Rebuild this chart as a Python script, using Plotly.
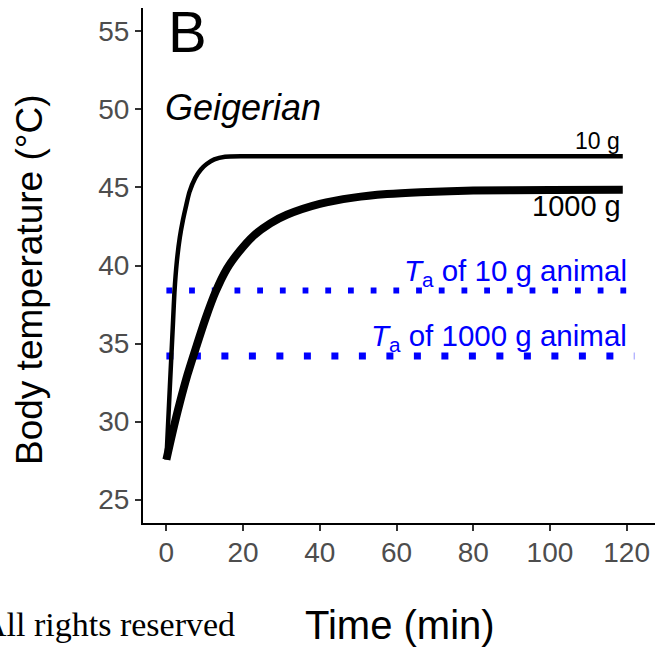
import plotly.graph_objects as go

# ---- data ----
time_10g = [0, 0.9, 1.75, 2.1, 2.7, 3.5, 4.3, 5.2, 6.0, 7.5, 9.0, 10.5, 12.5, 15.3, 20, 119]
temp_10g = [27.56, 32.2, 36.5, 38.3, 40.2, 41.8, 42.9, 43.9, 44.7, 45.6, 46.15, 46.5, 46.8, 46.97, 47.0, 47.0]

time_1000g = [0, 1.5, 3.5, 5.5, 7.8, 10.2, 12.8, 15.8, 19, 22.7, 27.1, 31.4, 40, 48.8, 57.5, 66.2, 80, 100, 119]
temp_1000g = [27.56, 29.2, 31.2, 33.0, 34.8, 36.6, 38.3, 39.8, 40.9, 41.9, 42.7, 43.25, 43.95, 44.35, 44.58, 44.7, 44.8, 44.84, 44.85]

ta_10g = 38.4
ta_1000g = 34.2
ta_time_10g = [0, 120]
ta_time_1000g = [0, 122]

x_ticks = [0, 20, 40, 60, 80, 100, 120]
y_ticks = [25, 30, 35, 40, 45, 50, 55]

W, H = 655, 647
ML, MR, MT, MB = 143, 0, 8, 124
PW, PH = W - ML - MR, H - MT - MB

def px(x):
    return (x - ML) / PW

def py(y):
    return (H - MB - y) / PH

SANS = "Liberation Sans, Arial, sans-serif"

fig = go.Figure()

fig.add_trace(go.Scatter(x=ta_time_10g, y=[ta_10g] * len(ta_time_10g), mode="lines",
                         line=dict(color="#0000FF", width=6, dash="5.8px,16.9px"),
                         showlegend=False, hoverinfo="skip"))
fig.add_trace(go.Scatter(x=ta_time_1000g, y=[ta_1000g] * len(ta_time_1000g), mode="lines",
                         line=dict(color="#0000FF", width=6.8, dash="7px,20.5px"),
                         showlegend=False, hoverinfo="skip"))
fig.add_trace(go.Scatter(x=time_10g, y=temp_10g, mode="lines",
                         line=dict(color="black", width=4.5, shape="spline", smoothing=0.5),
                         showlegend=False))
fig.add_trace(go.Scatter(x=time_1000g, y=temp_1000g, mode="lines",
                         line=dict(color="black", width=8, shape="spline", smoothing=0.8),
                         showlegend=False))

ann = []
# panel letter and model name
ann.append(dict(x=px(166), y=py(31), xref="paper", yref="paper", text="B",
                showarrow=False, xanchor="left", yanchor="middle",
                font=dict(family=SANS, size=58, color="black")))
ann.append(dict(x=px(163), y=py(107), xref="paper", yref="paper", text="<i>Geigerian</i>",
                showarrow=False, xanchor="left", yanchor="middle",
                font=dict(family=SANS, size=36, color="black")))
# curve labels
ann.append(dict(x=px(622), y=py(141), xref="paper", yref="paper", text="10 g",
                showarrow=False, xanchor="right", yanchor="middle",
                font=dict(family=SANS, size=23, color="black")))
ann.append(dict(x=px(623), y=py(206), xref="paper", yref="paper", text="1000 g",
                showarrow=False, xanchor="right", yanchor="middle",
                font=dict(family=SANS, size=29, color="black")))
ann.append(dict(x=px(629), y=py(272), xref="paper", yref="paper",
                text="<i>T</i><sub>a</sub> of 10 g animal",
                showarrow=False, xanchor="right", yanchor="middle",
                font=dict(family=SANS, size=29.5, color="#0000FF")))
ann.append(dict(x=px(629), y=py(337), xref="paper", yref="paper",
                text="<i>T</i><sub>a</sub> of 1000 g animal",
                showarrow=False, xanchor="right", yanchor="middle",
                font=dict(family=SANS, size=29.5, color="#0000FF")))
# axis titles
ann.append(dict(x=px(400), y=py(625), xref="paper", yref="paper", text="Time (min)",
                showarrow=False, xanchor="center", yanchor="middle",
                font=dict(family=SANS, size=40, color="black")))
ann.append(dict(x=px(30), y=py(280), xref="paper", yref="paper", text="Body temperature (°C)",
                showarrow=False, xanchor="center", yanchor="middle", textangle=-90,
                font=dict(family=SANS, size=37, color="black")))
# copyright fragment
ann.append(dict(x=px(237), y=py(624), xref="paper", yref="paper", text="All rights reserved",
                showarrow=False, xanchor="right", yanchor="middle",
                font=dict(family="Liberation Serif, Times New Roman, serif", size=34, color="black")))

axis_common = dict(showgrid=False, zeroline=False, showline=True, linecolor="black", linewidth=2,
                   ticks="outside", ticklen=6, tickwidth=2, tickcolor="#333333",
                   tickfont=dict(family=SANS, size=28, color="#4D4D4D"))

fig.update_layout(
    width=W, height=H, autosize=False,
    margin=dict(l=ML, r=MR, t=MT, b=MB, pad=0),
    paper_bgcolor="white", plot_bgcolor="white",
    annotations=ann,
    xaxis=dict(range=[-6.1, 127.4], tickvals=x_ticks, ticktext=[str(v) for v in x_ticks],
               ticklabelstandoff=-3, **axis_common),
    yaxis=dict(range=[23.5, 56.5], tickvals=y_ticks, ticktext=[str(v) for v in y_ticks],
               **axis_common),
)

fig.write_html("out.html")
